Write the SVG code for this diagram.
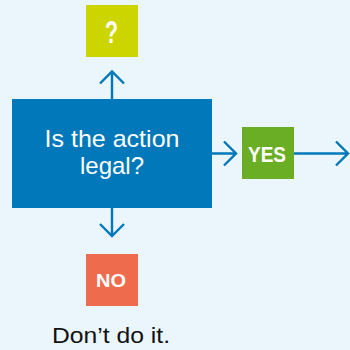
<svg xmlns="http://www.w3.org/2000/svg" width="350" height="350" viewBox="0 0 350 350">
  <style>
    .conn { fill: none; stroke: #0078BA; stroke-width: 2.4; stroke-linecap: butt; stroke-linejoin: miter; }
    .lbl { font-family: "Liberation Sans", Arial, sans-serif; fill: #ffffff; text-anchor: middle; }
    .bold { font-weight: bold; }
  </style>
  <rect x="0" y="0" width="350" height="350" fill="#EAF5FC"/>
  <g id="connectors">
    <path class="conn" d="M112 99 V71 M100 83.5 L112 71.5 L124 83.5"/>
    <path class="conn" d="M212 153.5 H236 M224 141.5 L236 153.5 L224 165.5"/>
    <path class="conn" d="M294 153.5 H348 M336 141.5 L348 153.5 L336 165.5"/>
    <path class="conn" d="M112 208 V236 M100 224 L112 236 L124 224"/>
  </g>
  <g id="question">
    <rect x="86" y="5" width="52" height="52" fill="#CCD500"/>
    <text class="lbl bold" x="111.5" y="43" font-size="31" textLength="13" lengthAdjust="spacingAndGlyphs">?</text>
  </g>
  <g id="decision">
    <rect x="12" y="99" width="200" height="109" fill="#0078BA"/>
    <text class="lbl" x="112" y="147" font-size="24" textLength="135" lengthAdjust="spacingAndGlyphs">Is the action</text>
    <text class="lbl" x="112" y="174" font-size="24">legal?</text>
  </g>
  <g id="yes">
    <rect x="242" y="127" width="52" height="52" fill="#6AAE25"/>
    <text class="lbl bold" x="267" y="162" font-size="22" textLength="38" lengthAdjust="spacingAndGlyphs">YES</text>
  </g>
  <g id="no">
    <rect x="86" y="254" width="52" height="52" fill="#EE6C4D"/>
    <text class="lbl bold" x="111" y="287" font-size="18" textLength="30" lengthAdjust="spacingAndGlyphs">NO</text>
  </g>
  <g id="dont">
    <text x="111" y="343" font-family="'Liberation Sans', Arial, sans-serif" font-size="22" fill="#111111" text-anchor="middle" textLength="118" lengthAdjust="spacingAndGlyphs">Don’t do it.</text>
  </g>
</svg>
